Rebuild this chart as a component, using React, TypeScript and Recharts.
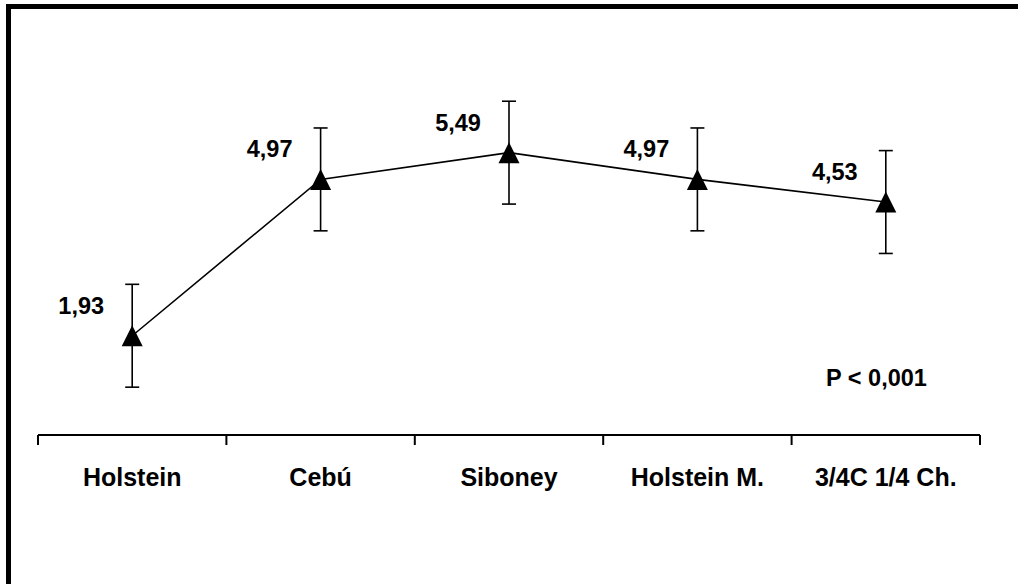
import React from 'react';
import { ComposedChart, Line, XAxis, YAxis, ErrorBar, LabelList } from 'recharts';

const categories = ['Holstein', 'Cebú', 'Siboney', 'Holstein M.', '3/4C 1/4 Ch.'];
const values = [1.93, 4.97, 5.49, 4.97, 4.53];
const valueLabels = ['1,93', '4,97', '5,49', '4,97', '4,53'];
const errors = [1, 1, 1, 1, 1];
const yDomain: [number, number] = [0, 7];
const noteText = 'P < 0,001';

const data = categories.map((c, i) => ({ cat: c, v: values[i], err: errors[i], lbl: valueLabels[i] }));

const W = 1018;
const H = 584;
const M = { top: 75, right: 38, bottom: 0, left: 38 };
const HALF_BAND = (W - M.left - M.right) / categories.length / 2;
const FONT = '"Liberation Sans", Arial, sans-serif';

const Tick = (props: any) => {
  const { x, y, payload, index } = props;
  const last = index === categories.length - 1;
  return (
    <g>
      <line x1={x - HALF_BAND} y1={y} x2={x - HALF_BAND} y2={y + 10} stroke="#000" strokeWidth={2} />
      {last && <line x1={x + HALF_BAND} y1={y} x2={x + HALF_BAND} y2={y + 10} stroke="#000" strokeWidth={2} />}
      <text
        x={x}
        y={y + 51}
        textAnchor="middle"
        fontFamily={FONT}
        fontWeight="bold"
        fontSize={25}
        fill="#000"
      >
        {payload.value}
      </text>
    </g>
  );
};

const Triangle = (props: any) => {
  const { cx, cy, index } = props;
  if (cx == null || cy == null) return null;
  const s = 10.5;
  return (
    <polygon
      key={`tri-${index}`}
      points={`${cx},${cy - s} ${cx - s},${cy + s} ${cx + s},${cy + s}`}
      fill="#000"
    />
  );
};

const ValueLabel = (props: any) => {
  const { x, y, value } = props;
  return (
    <text
      x={x - 51}
      y={y - 22}
      textAnchor="middle"
      fontFamily={FONT}
      fontWeight="bold"
      fontSize={23.5}
      fill="#000"
    >
      {value}
    </text>
  );
};

export default function App() {
  return (
    <div style={{ position: 'absolute', left: 0, top: 0, width: W, height: H, background: '#fff' }}>
      <ComposedChart width={W} height={H} data={data} margin={M}>
        <XAxis
          dataKey="cat"
          scale="band"
          interval={0}
          height={H - 435}
          axisLine={{ stroke: '#000', strokeWidth: 2 }}
          tickLine={false}
          tickSize={0}
          tickMargin={0}
          tick={<Tick />}
        />
        <YAxis hide domain={yDomain} />
        <Line
          dataKey="v"
          stroke="#000"
          strokeWidth={1.6}
          dot={<Triangle />}
          activeDot={false}
          isAnimationActive={false}
        >
          <ErrorBar dataKey="err" width={7} stroke="#000" strokeWidth={1.6} direction="y" isAnimationActive={false} />
          <LabelList dataKey="lbl" content={<ValueLabel />} />
        </Line>
      </ComposedChart>
      <svg
        width={W}
        height={H}
        style={{ position: 'absolute', left: 0, top: 0, pointerEvents: 'none' }}
      >
        <rect x={6} y={4} width={W - 6} height={5} fill="#000" />
        <rect x={6} y={4} width={5} height={H - 4} fill="#000" />
        <text
          x={876.5}
          y={386}
          textAnchor="middle"
          fontFamily={FONT}
          fontWeight="bold"
          fontSize={23.5}
          fill="#000"
        >
          {noteText}
        </text>
      </svg>
    </div>
  );
}
